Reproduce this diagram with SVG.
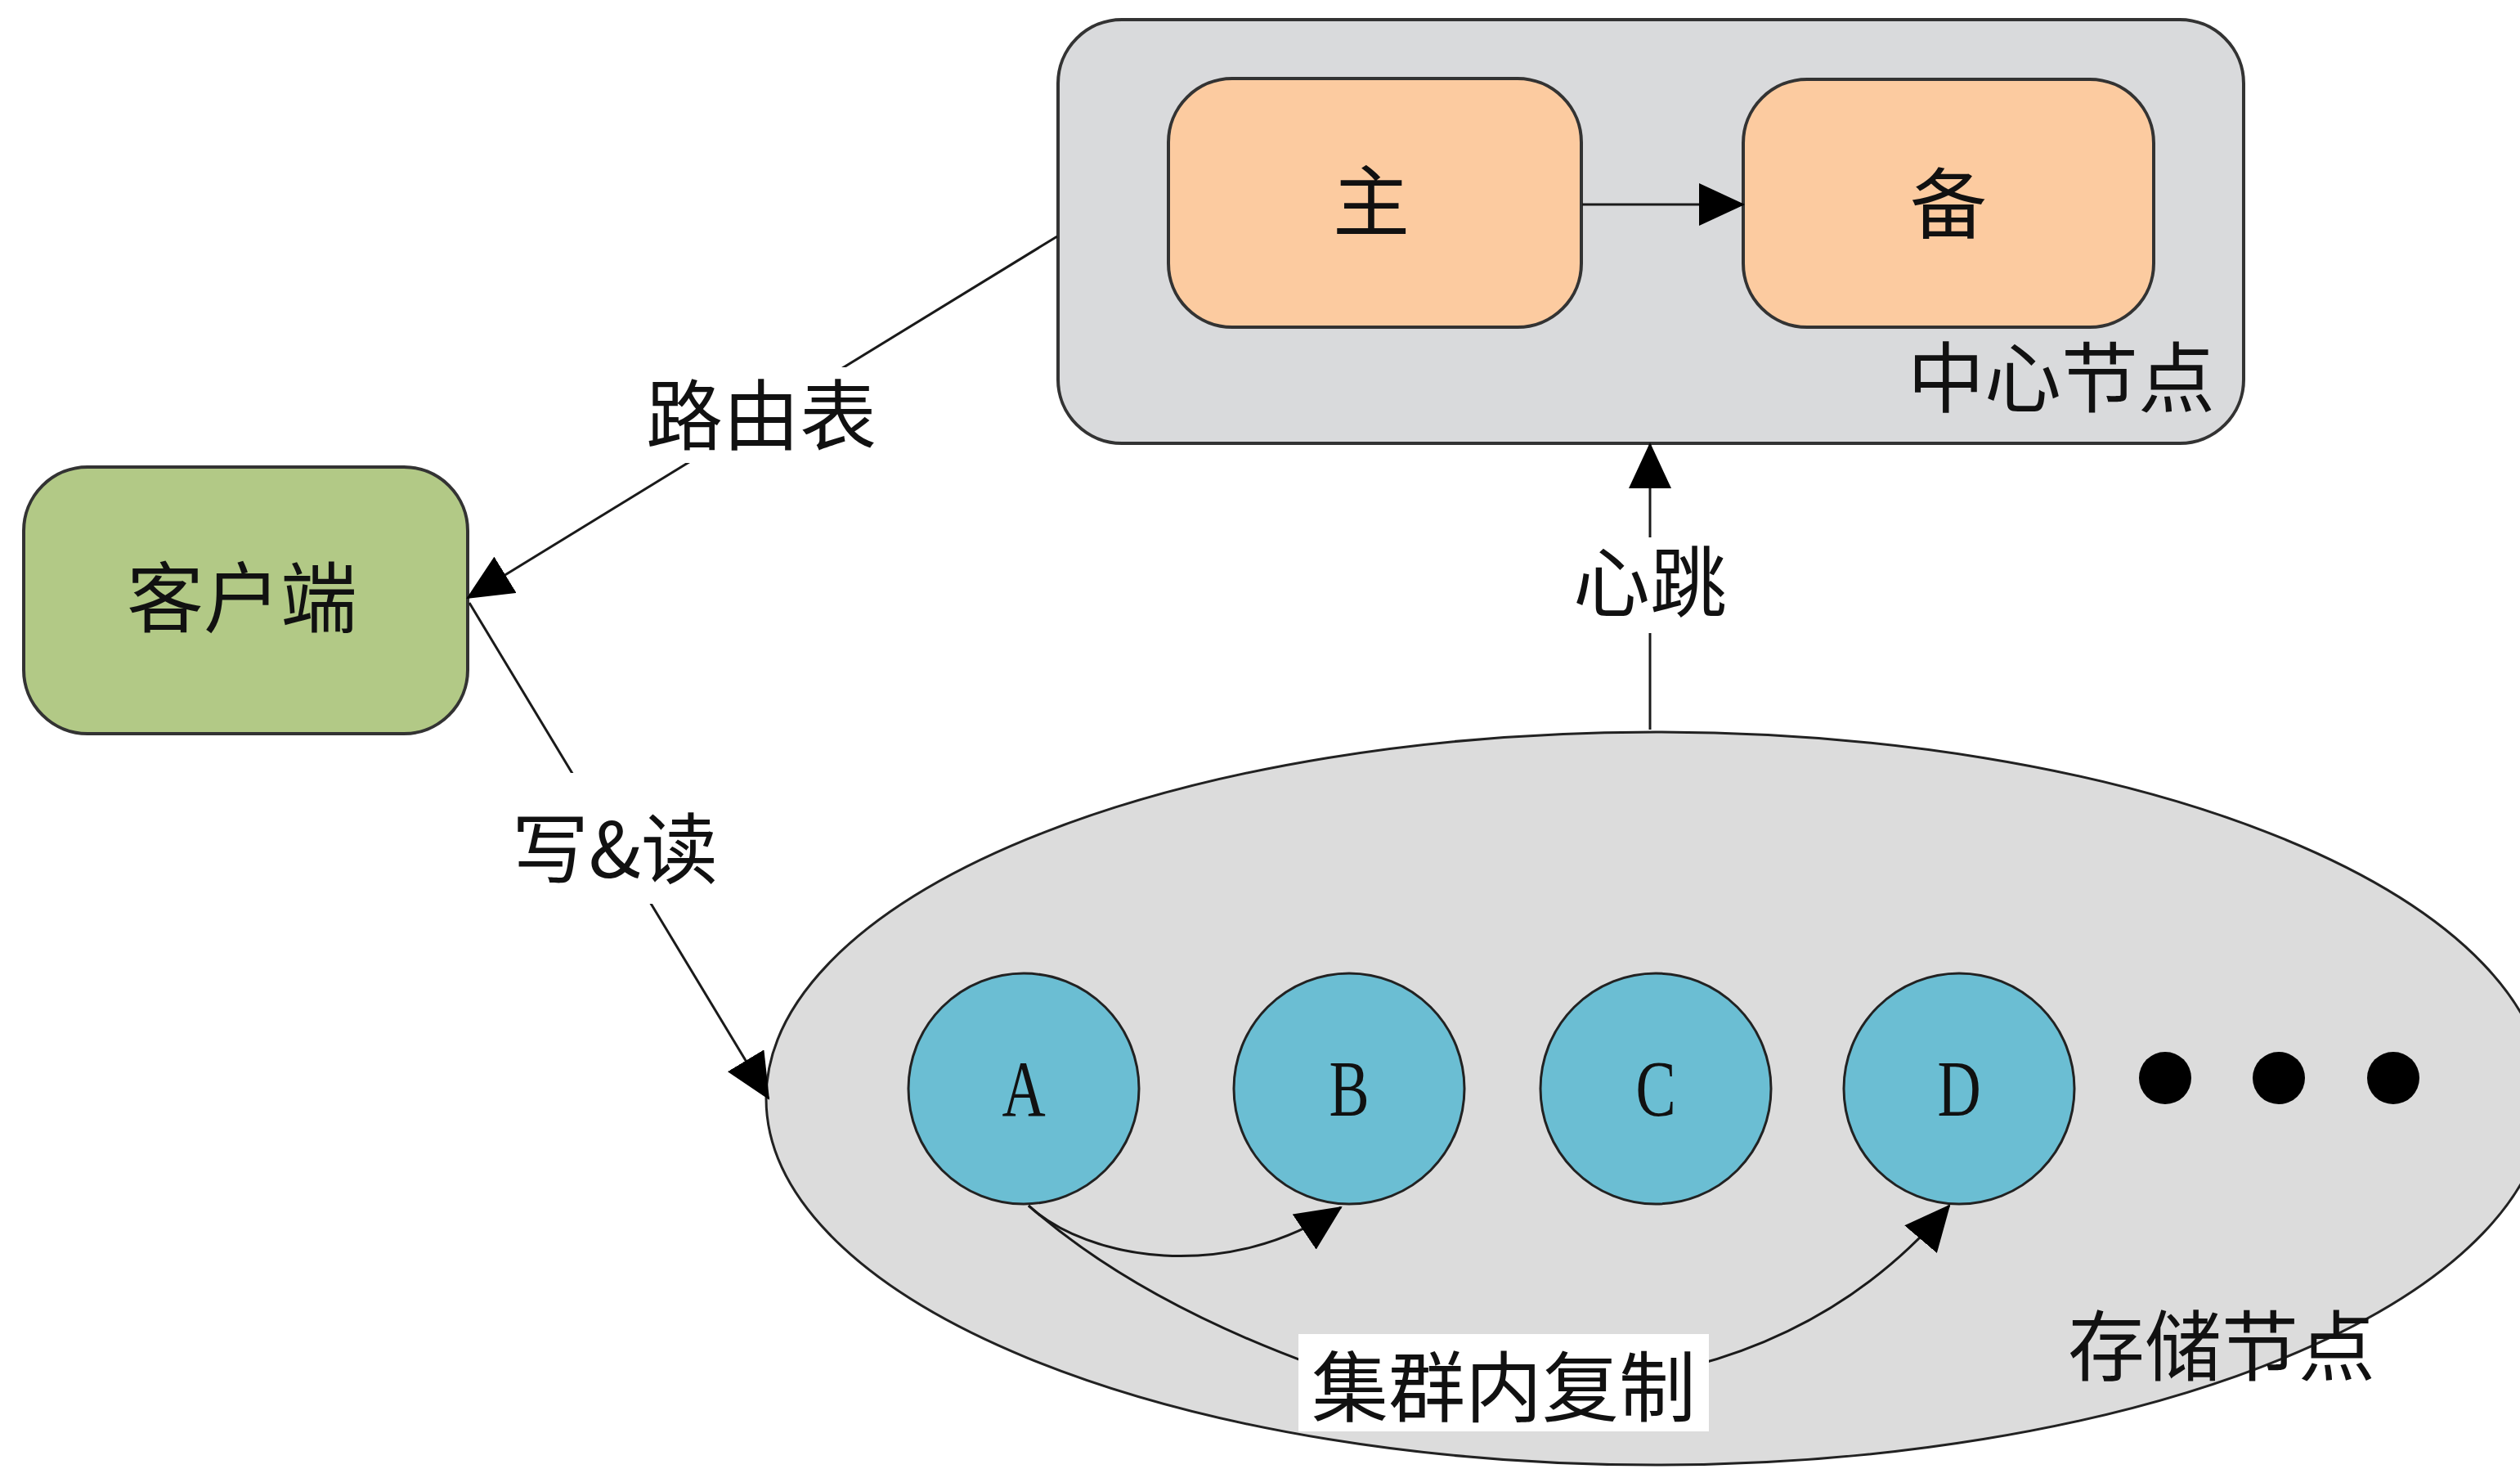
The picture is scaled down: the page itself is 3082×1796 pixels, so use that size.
<svg xmlns="http://www.w3.org/2000/svg" width="3082" height="1796" viewBox="0 0 3082 1796">
<style>
.cjk{font-family:"Noto Sans CJK SC","Noto Sans",sans-serif;font-size:94px;fill:#111;text-anchor:middle;dominant-baseline:central}
.lat{font-family:"Liberation Serif","DejaVu Serif",serif;font-size:97px;fill:#111;text-anchor:middle;dominant-baseline:central}
.conn{fill:none;stroke:#1a1a1a;stroke-width:3}
.box{stroke:#333;stroke-width:4}
.lbl{fill:#fff}
</style>
<defs>
<marker id="arr" viewBox="0 0 56 52" refX="54" refY="26" markerWidth="56" markerHeight="52" markerUnits="userSpaceOnUse" orient="auto">
<path d="M0,0 L56,26 L0,52 z" fill="#000"/>
</marker>
</defs>
<rect width="3082" height="1796" fill="#fff"/>

<g id="storage">
<ellipse cx="2025" cy="1343" rx="1088" ry="448" fill="#dcdcdc" stroke="#222" stroke-width="3"/>
<text class="cjk" x="2717" y="1640">存储节点</text>
</g>

<g id="center">
<rect x="1294" y="24" width="1450" height="518" rx="78" ry="78" fill="#d9dadc" class="box"/>
<text class="cjk" x="2521" y="456">中心节点</text>
</g>

<g id="master">
<rect x="1429" y="96" width="505" height="304" rx="78" ry="78" fill="#fccba0" class="box"/>
<text class="cjk" x="1677" y="240">主</text>
</g>

<g id="backup">
<rect x="2132" y="97" width="502" height="303" rx="78" ry="78" fill="#fccba0" class="box"/>
<text class="cjk" x="2383" y="243">备</text>
</g>

<g id="client">
<rect x="29" y="571" width="543" height="326" rx="78" ry="78" fill="#b2c986" class="box"/>
<text class="cjk" x="296" y="725">客户端</text>
</g>

<g id="nodeA">
<circle cx="1252" cy="1331" r="141" fill="#6bbed3" stroke="#222" stroke-width="3"/>
<text class="lat" transform="translate(1252 1331) scale(0.76 1)">A</text>
</g>
<g id="nodeB">
<circle cx="1650" cy="1331" r="141" fill="#6bbed3" stroke="#222" stroke-width="3"/>
<text class="lat" transform="translate(1650 1331) scale(0.76 1)">B</text>
</g>
<g id="nodeC">
<circle cx="2025" cy="1331" r="141" fill="#6bbed3" stroke="#222" stroke-width="3"/>
<text class="lat" transform="translate(2025 1331) scale(0.76 1)">C</text>
</g>
<g id="nodeD">
<circle cx="2396" cy="1331" r="141" fill="#6bbed3" stroke="#222" stroke-width="3"/>
<text class="lat" transform="translate(2396 1331) scale(0.76 1)">D</text>
</g>
<g id="more">
<circle cx="2648" cy="1318" r="32" fill="#000"/>
<circle cx="2787" cy="1318" r="32" fill="#000"/>
<circle cx="2927" cy="1318" r="32" fill="#000"/>
</g>

<g id="connectors">
<path class="conn" d="M1935,250 L2132,250" marker-end="url(#arr)"/>
<path class="conn" d="M1293,289 L572,731" marker-end="url(#arr)"/>
<rect class="lbl" x="776" y="449" width="310" height="117"/>
<text class="cjk" x="931" y="502">路由表</text>
<path class="conn" d="M2018,892 L2018,543" marker-end="url(#arr)"/>
<rect class="lbl" x="1912" y="657" width="212" height="117"/>
<text class="cjk" x="2018" y="706">心跳</text>
<path class="conn" d="M574,737 L940,1343" marker-end="url(#arr)"/>
<rect class="lbl" x="622" y="945" width="262" height="160"/>
<text class="cjk" x="752" y="1032">写&amp;读</text>
<path class="conn" d="M1258,1474 C1330,1540 1500,1570 1640,1476" marker-end="url(#arr)"/>
<path class="conn" d="M1258,1474 Q1390,1590 1610,1670 L2070,1670 Q2260,1620 2384,1474" marker-end="url(#arr)"/>
<rect class="lbl" x="1588" y="1631" width="502" height="119"/>
<text class="cjk" x="1839" y="1690">集群内复制</text>
</g>
</svg>
